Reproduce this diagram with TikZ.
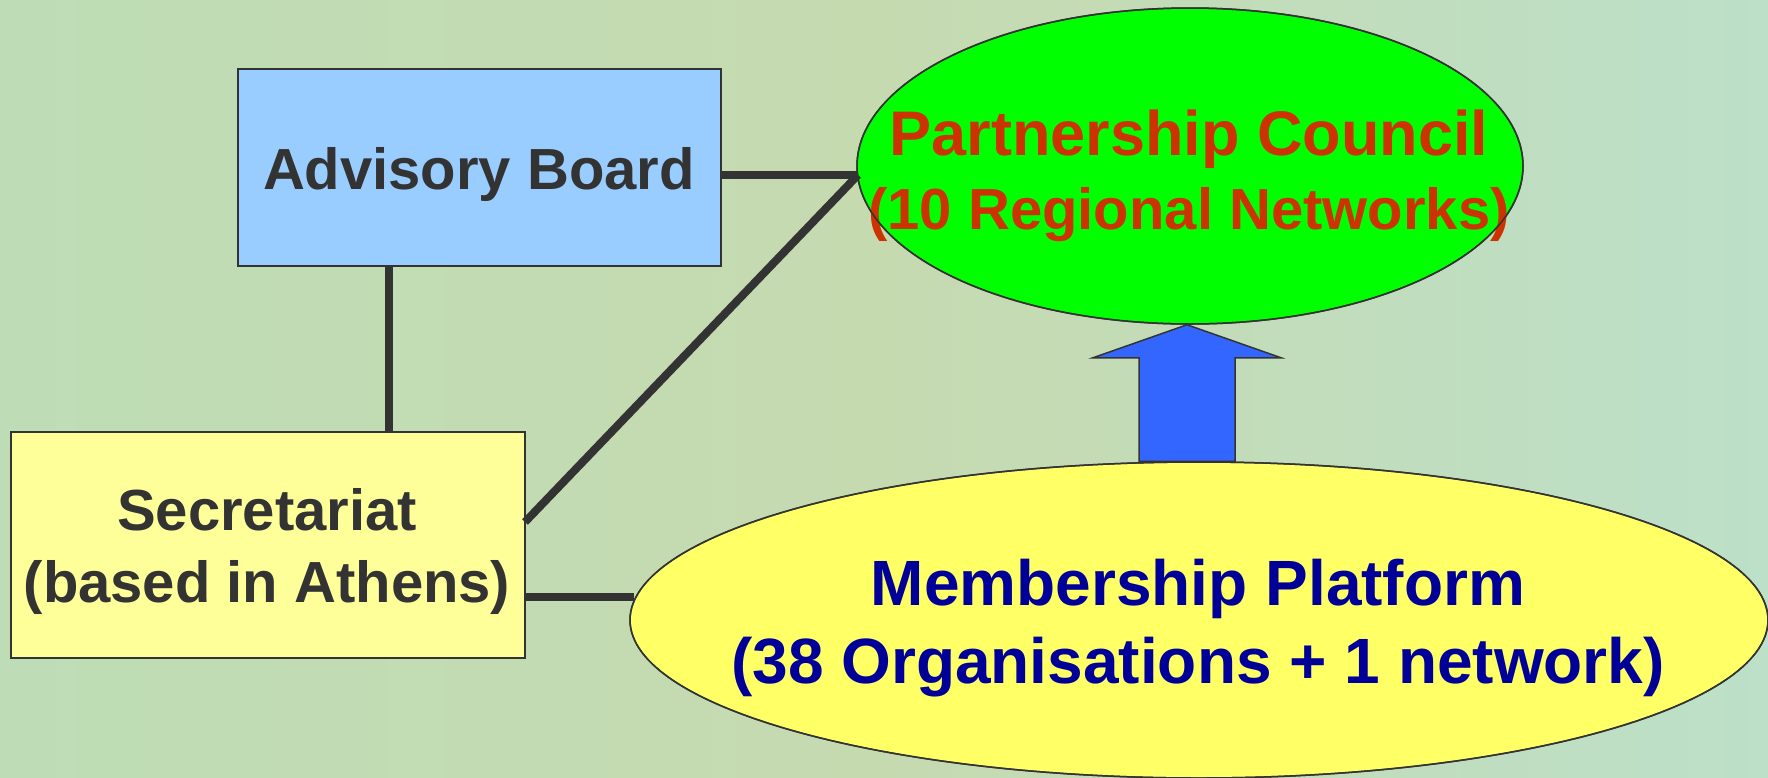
\documentclass[tikz,border=0pt]{standalone}
\usepackage{fontspec}
\setmainfont{Liberation Sans}
\usetikzlibrary{calc,shapes.geometric}
\definecolor{bgL}{HTML}{BEDDB6}
\definecolor{bgM}{HTML}{C6DAB0}
\definecolor{bgR}{HTML}{BCE0C8}
\definecolor{abfill}{HTML}{99CCFF}
\definecolor{secfill}{HTML}{FFFF99}
\definecolor{pcfill}{HTML}{00FF00}
\definecolor{mpfill}{HTML}{FFFF66}
\definecolor{arrowfill}{HTML}{3366FF}
\definecolor{pctext}{HTML}{CC3300}
\definecolor{mptext}{HTML}{000099}
\definecolor{darktext}{HTML}{333333}
\tikzset{
  boxnode/.style={draw=darktext, line width=2pt, inner sep=0pt},
  ovalnode/.style={ellipse, draw=darktext, line width=1.5pt, inner sep=0pt},
  label58/.style={text=darktext, font=\bfseries\fontsize{58}{72}\selectfont, align=center, inner sep=0pt},
  link/.style={draw=darktext, line width=8pt},
}
\begin{document}
\begin{tikzpicture}[x=1pt,y=-1pt]
\useasboundingbox (0,0) rectangle (1768,777);
% background
\shade[left color=bgL, right color=bgR, middle color=bgM] (0,0) rectangle (1768,777);

% nodes
\node[boxnode, fill=abfill, minimum width=483pt, minimum height=197pt] (ab) at (479.5,167.5) {};
\node[label58, anchor=base] (abt) at (479,189) {Advisory Board};

\node[boxnode, fill=secfill, minimum width=514pt, minimum height=226pt] (sec) at (268,545) {};
\node[label58] (sect) at (267,551) {Secretariat\\(based in Athens)};

\node[ovalnode, fill=pcfill, minimum width=666pt, minimum height=316pt] (pc) at (1190,166) {};
\node[text=pctext, font=\bfseries\fontsize{58}{74}\selectfont, align=center, inner sep=0pt] (pct) at (1189,176)
  {{\fontsize{63}{74}\selectfont Partnership Council}\\(10 Regional Networks)};

\node[ovalnode, fill=mpfill, minimum width=1138pt, minimum height=316pt] (mp) at (1199,620) {};
\node[text=mptext, font=\bfseries\fontsize{64}{78}\selectfont, align=center, inner sep=0pt] (mpt) at (1198,628)
  {Membership Platform\\(38 Organisations + 1 network)};

% connectors
\coordinate (pcl) at (858,175);
\coordinate (vx) at (389,0);
\coordinate (secd) at (525,522);
\coordinate (mpl) at (634,597);
\draw[link] (ab.east |- pcl) -- (pcl);
\draw[link] (secd) -- (pcl);
\draw[link] (ab.south -| vx) -- (sec.north -| vx);
\draw[link] (sec.east |- mpl) -- (mpl);
% redraw ellipse borders over the line ends
\draw[darktext, line width=1.5pt] (pc.center) ellipse [x radius=333pt, y radius=158pt];

% block arrow
\coordinate (tip) at (pc.south -| 1187,0);
\fill[arrowfill, draw=darktext, line width=1.5pt]
  (tip) -- ($(tip)+(94,33)$) -- ($(tip)+(48,33)$) -- ($(mp.north -| tip)+(48,0)$)
  -- ($(mp.north -| tip)+(-48,0)$) -- ($(tip)+(-48,33)$) -- ($(tip)+(-94,33)$) -- cycle;
\draw[darktext, line width=1.5pt] (mp.center) ellipse [x radius=569pt, y radius=158pt];
\end{tikzpicture}
\end{document}
